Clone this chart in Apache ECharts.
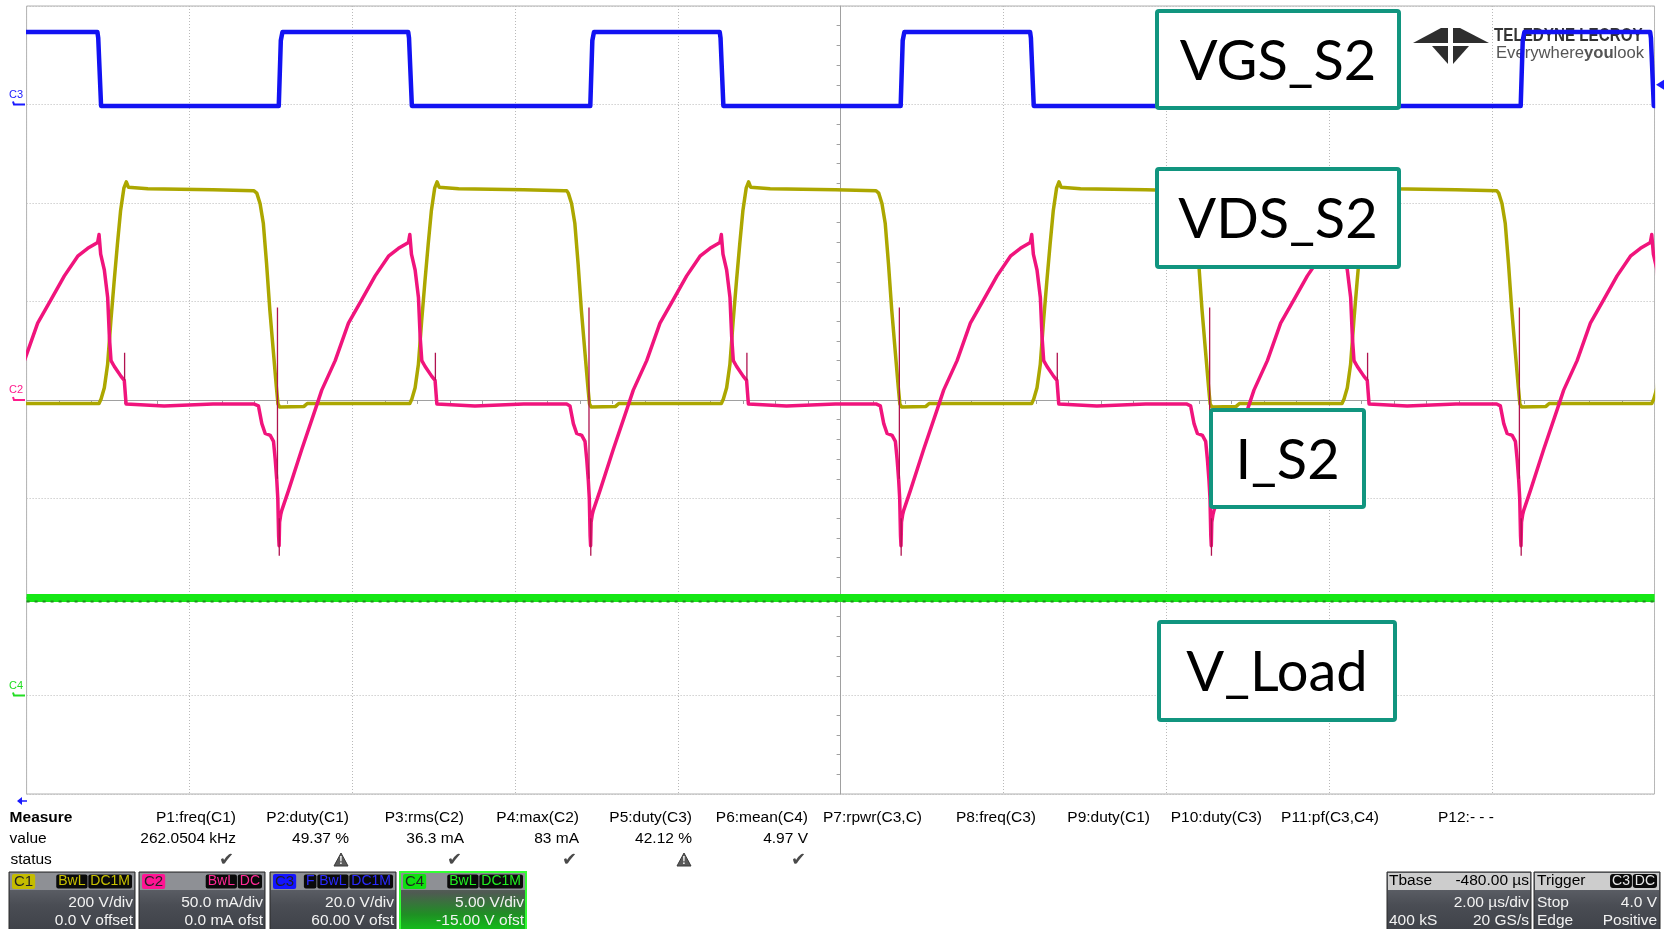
<!DOCTYPE html>
<html><head><meta charset="utf-8">
<script src="https://cdn.jsdelivr.net/npm/echarts@6/dist/echarts.min.js"></script>
<style>html,body{margin:0;padding:0;background:#fff;overflow:hidden}#c{width:1667px;height:929px}</style>
</head><body><div id="c"></div>
<script>
// ===== values =====
// time axis: µs relative to screen centre, 2 µs/div, 10 div
const timeMin = -10, timeMax = 10, timeDiv = 2;
// rising edges of VGS_S2 (C3) in µs
const vgsRiseTimes = [-10.71, -6.892, -3.065, 0.748, 4.560, 8.365];
// VGS_S2 (C3) over one cycle: µs after rising edge / volts
const vgsCycleT = [-0.01, 0.015, 0.035, 1.58, 1.59, 1.625, 3.5];
const vgsCycleV = [-0.3, 13, 14.7, 14.7, 13.5, -0.3, -0.3];
// VDS_S2 (C1) over one cycle: µs after VGS rising edge / volts
const vdsCycleT = [-0.30, -0.28, -0.24, -0.20, -0.16, -0.12, -0.075, -0.04, -0.02, 0.0, 0.30, 0.34, 1.60, 1.625, 1.665, 1.705, 1.745, 1.785, 1.825, 1.865, 1.905, 1.935, 1.96, 2.2, 3.0, 3.5];
const vdsCycleV = [425, 420, 399, 359, 277, 183, 95, 27, -8, -14, -13, -7, -7, 2, 25, 72, 160, 240, 315, 385, 430, 443, 432, 429, 427, 425];
// I_S2 (C2) over one cycle: µs after VGS rising edge / mA
const iCycleT = [-0.30, -0.26, -0.218, -0.177, -0.115, -0.075, -0.054, -0.034, -0.022, -0.012, -0.006, 0.0, 0.015, 0.027, 0.109, 0.273, 0.437, 0.518, 0.683, 0.846, 1.010, 1.174, 1.338, 1.461, 1.583, 1.600, 1.620, 1.665, 1.706, 1.727, 1.747, 1.788, 1.870, 1.910, 1.932, 2.4, 3.0, 3.5];
const iCycleV = [-2, -3, -12, -17, -18, -21, -30, -41, -50, -69, -74, -62, -58, -56, -46, -25, -5, 5, 20, 39, 51, 63, 73, 77, 80, 84, 74, 66, 52, 32, 20, 17, 12, 10, -2, -3, -2, -2];
// thin ringing spikes of I_S2: [µs after VGS edge, from mA, to mA]
const iSpikeT = [-0.026, -0.004, 1.914];
const iSpikeFrom = [-40, -60, 10];
const iSpikeTo = [47, -79, 24];
// V_Load (C4)
const vLoadT = [-10, 10];
const vLoadV = [4.95, 4.95];
// channel settings: V/div (mA/div) and offset
const chScale = {C1: 200, C2: 50, C3: 20, C4: 5};
const chOffset = {C1: 0, C2: 0, C3: 60, C4: -15};
const trigLevel = 4.0;

// measurement table
const measureHeaders = ['P1:freq(C1)','P2:duty(C1)','P3:rms(C2)','P4:max(C2)','P5:duty(C3)','P6:mean(C4)','P7:rpwr(C3,C)','P8:freq(C3)','P9:duty(C1)','P10:duty(C3)','P11:pf(C3,C4)','P12:- - -'];
const measureValues = ['262.0504 kHz','49.37 %','36.3 mA','83 mA','42.12 %','4.97 V','','','','','',''];
const measureStatus = ['ok','warn','ok','ok','warn','ok','','','','','',''];

// ===== build series data =====
function cycles(T, V) {
  const out = [];
  vgsRiseTimes.forEach(r => T.forEach((dt, i) => out.push([r + dt, V[i]])));
  return out;
}
function spikes() {
  const out = [];
  vgsRiseTimes.forEach(r => iSpikeT.forEach((dt, i) => {
    out.push([r + dt, iSpikeFrom[i]]); out.push([r + dt, iSpikeTo[i]]); out.push([r + dt, '-']);
  }));
  return out;
}
const vgsData = cycles(vgsCycleT, vgsCycleV);
const vdsData = cycles(vdsCycleT, vdsCycleV);
const iData = cycles(iCycleT, iCycleV);
const iSpikeData = spikes();
const vLoadData = vLoadT.map((t, i) => [t, vLoadV[i]]);

function chAxis(ch) {
  const s = chScale[ch], o = chOffset[ch];
  return {type: 'value', show: false, min: -o - 4 * s, max: -o + 4 * s};
}

const chart = echarts.init(document.getElementById('c'), null, {renderer: 'canvas', width: 1667, height: 929});
const gridLine = {color: '#b9b9b9', type: [1, 2], width: 1};
const line = (name, yi, data, ls, z) => ({
  type: 'line', name, yAxisIndex: yi, data, symbol: 'none', silent: true, z,
  lineStyle: Object.assign({join: 'round'}, ls), clip: true
});

chart.setOption({
  animation: false,
  backgroundColor: '#ffffff',
  grid: {left: 26.6, top: 6, width: 1628, height: 788, show: true, borderColor: '#b0b0b0', borderWidth: 1},
  xAxis: {type: 'value', min: timeMin, max: timeMax, interval: timeDiv,
    axisLine: {show: true, onZero: true, lineStyle: {color: '#a0a0a0'}},
    axisTick: {show: false}, axisLabel: {show: false},
    minorTick: {show: true, splitNumber: 5, length: 4, lineStyle: {color: '#a0a0a0'}},
    splitLine: {show: true, lineStyle: gridLine}},
  yAxis: [
    {type: 'value', min: -4, max: 4, interval: 1,
      axisLine: {show: true, onZero: true, lineStyle: {color: '#a0a0a0'}},
      axisTick: {show: false}, axisLabel: {show: false},
      minorTick: {show: true, splitNumber: 5, length: 4, lineStyle: {color: '#a0a0a0'}},
      splitLine: {show: true, lineStyle: gridLine}},
    chAxis('C1'), chAxis('C2'), chAxis('C3'), chAxis('C4')
  ],
  series: [
    line('V_Load', 4, vLoadData, {color: '#16e816', width: 8}, 3),
    line('V_Load speckle', 4, vLoadData, {color: '#16e816', width: 2, type: [3, 5], shadowColor: '#1f8f1f', shadowOffsetY: 3.5, shadowBlur: 0}, 3),
    line('VGS_S2', 3, vgsData, {color: '#1212f2', width: 4.5}, 4),
    line('VDS_S2', 1, vdsData, {color: '#aca700', width: 3.5}, 5),
    line('I_S2', 2, iData, {color: '#f0147c', width: 3.5}, 6),
    line('I_S2 spikes', 2, iSpikeData, {color: '#b0124f', width: 1.3}, 6)
  ]
});

// ===== annotations / scope UI =====
const g = [];
const F = "'Liberation Sans', Arial, sans-serif";
function txt(x, y, text, opt) {
  opt = opt || {};
  g.push({type: 'text', z: opt.z || 50, silent: true,
    style: Object.assign({x, y, text, fill: opt.fill || '#000', font: opt.font || ('15.5px ' + F),
      textAlign: opt.align || 'left', verticalAlign: 'middle'}, opt.extra || {})});
}
// masks outside the plot so traces stop at the frame
g.push({type: 'rect', z: 20, silent: true, shape: {x: 0, y: 0, width: 26, height: 929}, style: {fill: '#fff'}});
g.push({type: 'rect', z: 20, silent: true, shape: {x: 1655.2, y: 0, width: 12, height: 929}, style: {fill: '#fff'}});
// channel ground markers on left
const chColors = {C2: '#ff1a8c', C3: '#1a1aff', C4: '#22dd22'};
[['C3', 3], ['C2', 2], ['C4', 4]].forEach(([ch, yi]) => {
  const y = chart.convertToPixel({yAxisIndex: yi}, 0);
  g.push({type: 'polyline', z: 50, shape: {points: [[13, y - 3], [14, y], [25, y]]}, style: {stroke: chColors[ch], lineWidth: 2, fill: null}});
  txt(9, y - 10, ch, {fill: chColors[ch], font: '11px ' + F});
});
// trigger level marker (right)
{
  const y = chart.convertToPixel({yAxisIndex: 3}, trigLevel);
  g.push({type: 'polygon', z: 50, shape: {points: [[1656, y], [1664, y - 5], [1664, y + 5]]}, style: {fill: '#1a1aff'}});
}
// bottom-left arrow
g.push({type: 'polyline', z: 50, shape: {points: [[27, 801], [18, 801]]}, style: {stroke: '#1a1aff', lineWidth: 1.5, fill: null}});
g.push({type: 'polygon', z: 50, shape: {points: [[17, 801], [22, 797], [22, 805]]}, style: {fill: '#1a1aff'}});

// logo
g.push({type: 'polygon', z: 1, shape: {points: [[1413, 43], [1441, 28], [1448, 28], [1448, 43]]}, style: {fill: '#2e2e2e'}});
g.push({type: 'polygon', z: 1, shape: {points: [[1453, 28], [1460, 28], [1489, 43], [1453, 43]]}, style: {fill: '#2e2e2e'}});
g.push({type: 'polygon', z: 1, shape: {points: [[1432, 46], [1448, 46], [1448, 64]]}, style: {fill: '#2e2e2e'}});
g.push({type: 'polygon', z: 1, shape: {points: [[1453, 46], [1469, 46], [1453, 64]]}, style: {fill: '#2e2e2e'}});
g.push({type: 'text', z: 1, silent: true, x: 1494, y: 36, scaleX: 0.8,
  style: {x: 0, y: 0, text: 'TELEDYNE LECROY', fill: '#333', font: 'bold 19px ' + F, verticalAlign: 'middle'}});
g.push({type: 'text', z: 1, silent: true, x: 1496, y: 53, scaleX: 0.98,
  style: {x: 0, y: 0, text: '{r|Everywhere}{b|you}{r|look}', verticalAlign: 'middle',
  rich: {r: {fill: '#555', font: '17px ' + F}, b: {fill: '#555', font: 'bold 17px ' + F}}}});

// label boxes
const boxes = [
  {x: 1157, y: 11, w: 242, h: 97, t: 'VGS_S2'},
  {x: 1157, y: 169, w: 242, h: 98, t: 'VDS_S2'},
  {x: 1211, y: 410, w: 153, h: 97, t: 'I_S2'},
  {x: 1159, y: 622, w: 236, h: 98, t: 'V_Load'}
];
boxes.forEach(b => {
  g.push({type: 'rect', z: 100, shape: {x: b.x, y: b.y, width: b.w, height: b.h, r: 2}, style: {fill: '#fff', stroke: '#11957f', lineWidth: 4}});
  g.push({type: 'text', z: 101, silent: true, style: {x: b.x + b.w / 2, y: b.y + b.h / 2 + 2, text: b.t, fill: '#000',
    font: "56px Lato, 'Open Sans', sans-serif", textAlign: 'center', verticalAlign: 'middle'}});
});

// measure table
txt(9.6, 818, 'Measure', {font: 'bold 15.5px ' + F});
txt(9.6, 839, 'value');
txt(10.5, 860, 'status');
const colRight = [236, 349, 464, 579, 692, 808, 922, 1036, 1150, 1262, 1379, 1494];
measureHeaders.forEach((h, i) => {
  txt(colRight[i], 818, h, {align: 'right'});
  if (measureValues[i]) txt(colRight[i], 839, measureValues[i], {align: 'right'});
  if (measureStatus[i] === 'ok') txt(colRight[i] - 2, 860, '✔', {align: 'right', fill: '#4a4a4a', font: '18px DejaVu Sans'});
  if (measureStatus[i] === 'warn') {
    const cx = colRight[i] - 8;
    g.push({type: 'polygon', z: 50, shape: {points: [[cx, 853], [cx - 7, 866], [cx + 7, 866]]}, style: {fill: '#5a5a5a', stroke: '#3a3a3a', lineWidth: 1, lineJoin: 'round'}});
    txt(cx, 861, '!', {align: 'center', fill: '#fff', font: 'bold 10px ' + F, z: 51});
  }
});

// channel descriptor boxes
const chanBoxes = [
  {x: 9, label: 'C1', color: '#c4bc00', tagColor: '#c8c000', tags: ['BwL', 'DC1M'], lines: ['200 V/div', '0.0 V offset']},
  {x: 139, label: 'C2', color: '#ff1493', tagColor: '#ff2a96', tags: ['BwL', 'DC'], lines: ['50.0 mA/div', '0.0 mA ofst']},
  {x: 270, label: 'C3', color: '#1414ff', tagColor: '#2a2aff', tags: ['F', 'BwL', 'DC1M'], lines: ['20.0 V/div', '60.00 V ofst']},
  {x: 400, label: 'C4', color: '#10e010', tagColor: '#22ee22', tags: ['BwL', 'DC1M'], lines: ['5.00 V/div', '-15.00 V ofst'], glow: true}
];
const bodyGrad = new echarts.graphic.LinearGradient(0, 0, 0, 1, [
  {offset: 0, color: '#7a7d83'}, {offset: 0.3, color: '#5a5d64'}, {offset: 0.55, color: '#4a4d54'}, {offset: 1, color: '#3e4148'}]);
const glowGrad = new echarts.graphic.LinearGradient(0, 0, 0, 1, [
  {offset: 0, color: '#6a6d73'}, {offset: 0.35, color: '#4f5a52'}, {offset: 0.7, color: '#1f8f24'}, {offset: 1, color: '#10c818'}]);
chanBoxes.forEach(c => {
  const w = 126, y = 872;
  g.push({type: 'rect', z: 50, shape: {x: c.x, y: y, width: w, height: 60}, style: {fill: c.glow ? glowGrad : bodyGrad, stroke: c.glow ? '#33ff33' : '#2a2a2a', lineWidth: c.glow ? 2 : 1}});
  g.push({type: 'rect', z: 51, shape: {x: c.x + 1, y: y + 1, width: w - 2, height: 17}, style: {fill: '#8e9095'}});
  g.push({type: 'text', z: 52, silent: true, style: {x: c.x + 3, y: y + 9.5, text: c.label, fill: '#222', font: '15px ' + F,
    verticalAlign: 'middle', backgroundColor: c.color, padding: [0, 2, 0, 2], borderRadius: 2}});
  const rich = {t: {fill: c.tagColor, font: '14px ' + F, backgroundColor: '#0a0a0a', padding: [0, 2, 0, 2], borderRadius: 2}, s: {font: '3px ' + F}};
  g.push({type: 'text', z: 52, silent: true, style: {x: c.x + w - 3, y: y + 9.5, text: c.tags.map(t => '{t|' + t + '}').join('{s| }'),
    textAlign: 'right', verticalAlign: 'middle', rich}});
  txt(c.x + w - 2, 903, c.lines[0], {align: 'right', fill: '#f2f2f2', font: '15.5px ' + F, z: 53});
  txt(c.x + w - 2, 921, c.lines[1], {align: 'right', fill: '#f2f2f2', font: '15.5px ' + F, z: 53});
});
// timebase + trigger boxes
[{x: 1387, w: 144}, {x: 1534, w: 126}].forEach(b => {
  g.push({type: 'rect', z: 50, shape: {x: b.x, y: 872, width: b.w, height: 60}, style: {fill: bodyGrad, stroke: '#2a2a2a', lineWidth: 1}});
  g.push({type: 'rect', z: 51, shape: {x: b.x + 1, y: 873, width: b.w - 2, height: 17}, style: {fill: '#cdcdcd'}});
});
txt(1389, 881, 'Tbase', {z: 53});
txt(1529, 881, '-480.00 µs', {align: 'right', z: 53});
txt(1529, 903, '2.00 µs/div', {align: 'right', fill: '#f2f2f2', z: 53});
txt(1389, 921, '400 kS', {fill: '#f2f2f2', z: 53});
txt(1529, 921, '20 GS/s', {align: 'right', fill: '#f2f2f2', z: 53});
txt(1537, 881, 'Trigger', {z: 53});
g.push({type: 'text', z: 53, silent: true, style: {x: 1657, y: 881, text: '{t|C3}{s| }{t|DC}', textAlign: 'right', verticalAlign: 'middle',
  rich: {t: {fill: '#e6e6e6', font: '14px ' + F, backgroundColor: '#0a0a0a', padding: [0, 2, 0, 2], borderRadius: 3}, s: {font: '3px ' + F}}}});
txt(1537, 903, 'Stop', {fill: '#f2f2f2', z: 53});
txt(1657, 903, '4.0 V', {align: 'right', fill: '#f2f2f2', z: 53});
txt(1537, 921, 'Edge', {fill: '#f2f2f2', z: 53});
txt(1657, 921, 'Positive', {align: 'right', fill: '#f2f2f2', z: 53});

chart.setOption({graphic: {elements: g}});
</script></body></html>
